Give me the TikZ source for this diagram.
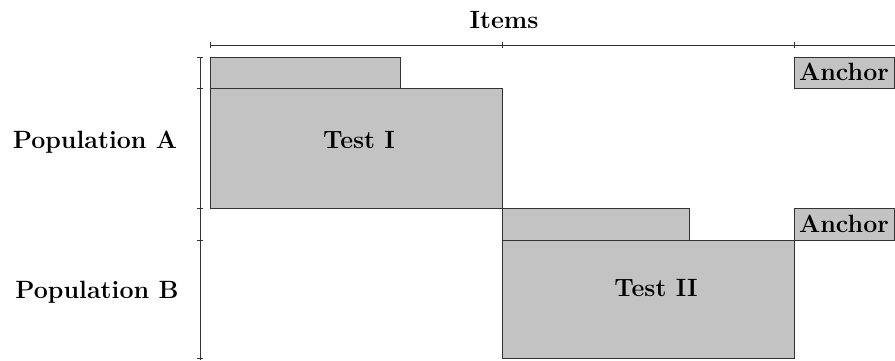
\documentclass[tikz,border=0pt]{standalone}
\usepackage{fontspec}
\usepackage{xcolor}
\definecolor{boxgray}{HTML}{C3C3C3}
\definecolor{edgegray}{HTML}{333333}
\begin{document}
\begin{tikzpicture}[x=1pt,y=-1pt,
  blk/.style={draw=edgegray,fill=boxgray,line width=0.8pt},
  lbl/.style={font=\fontsize{25}{28}\selectfont\bfseries,inner sep=0pt},
  axis/.style={draw=black!80,line width=0.8pt},
  tick/.style={draw=black!80,line width=0.8pt}]
\useasboundingbox (0,0) rectangle (895,360);
% boxes
\draw[blk] (210,57) rectangle (400,88);
\draw[blk] (210,88) rectangle (502,208);
\draw[blk] (502,208) rectangle (689,240);
\draw[blk] (502,240) rectangle (794,358);
\draw[blk] (794,57) rectangle (894,88);
\draw[blk] (794,208) rectangle (894,240);
% labels
\node[lbl] (items) at (504,20) {Items};
\node[lbl] (popA) at (95,142) {Population A};
\node[lbl] (popB) at (97,292) {Population B};
\node[lbl] (t1) at (359,140) {Test I};
\node[lbl] (t2) at (656,288) {Test II};
\node[lbl] (anA) at (844,72) {Anchor};
\node[lbl] (anB) at (844,224) {Anchor};
% axes
\coordinate (hx0) at (210,45);
\coordinate (hx1) at (895,45);
\draw[axis] (hx0) -- (hx1);
\foreach \x in {210,502,794} \draw[tick] (\x,42) -- (\x,48);
\coordinate (vy0) at (200,57);
\coordinate (vy1) at (200,360);
\draw[axis] (vy0) -- (vy1);
\foreach \y in {57,88,208,240,358} \draw[tick] (197,\y) -- (203,\y);
\end{tikzpicture}
\end{document}
